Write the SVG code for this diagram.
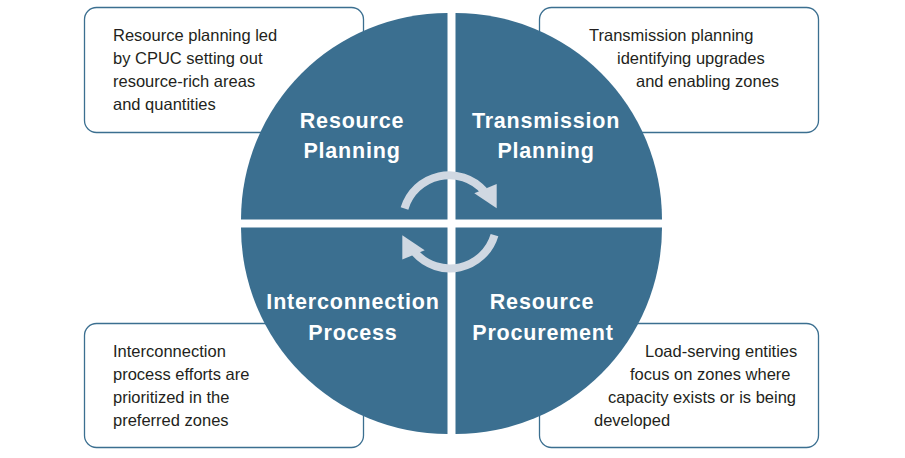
<svg xmlns="http://www.w3.org/2000/svg" width="905" height="458" viewBox="0 0 905 458">
<defs>
<style>
.box{fill:#ffffff;stroke:#3b6f90;stroke-width:1.3}
.q{fill:#3b6f90}
.body{font-family:"Liberation Sans",Arial,sans-serif;font-size:16.5px;fill:#231f20}
.title{font-family:"Liberation Sans",Arial,sans-serif;font-size:21.5px;font-weight:bold;fill:#ffffff;letter-spacing:0.8px;text-anchor:middle}
.arc{fill:none;stroke:#d0d8e2;stroke-width:8}
.head{fill:#d0d8e2}
</style>
</defs>
<rect width="905" height="458" fill="#ffffff"/>
<g id="box-resource-planning">
<rect class="box" x="84.5" y="7.5" width="279" height="125" rx="12"/>
<text class="body"><tspan x="113" y="41">Resource planning led</tspan><tspan x="113" y="64">by CPUC setting out</tspan><tspan x="113" y="87">resource-rich areas</tspan><tspan x="113" y="110">and quantities</tspan></text>
</g>
<g id="box-transmission-planning">
<rect class="box" x="539.5" y="7.5" width="279" height="125" rx="12"/>
<text class="body"><tspan x="589" y="41">Transmission planning</tspan><tspan x="617" y="64">identifying upgrades</tspan><tspan x="636" y="87">and enabling zones</tspan></text>
</g>
<g id="box-interconnection-process">
<rect class="box" x="84.5" y="323.5" width="279" height="124" rx="12"/>
<text class="body"><tspan x="113" y="357">Interconnection</tspan><tspan x="113" y="380">process efforts are</tspan><tspan x="113" y="403">prioritized in the</tspan><tspan x="113" y="426">preferred zones</tspan></text>
</g>
<g id="box-resource-procurement">
<rect class="box" x="539.5" y="323.5" width="279" height="124" rx="12"/>
<text class="body"><tspan x="645" y="357">Load-serving entities</tspan><tspan x="630" y="380">focus on zones where</tspan><tspan x="608" y="403">capacity exists or is being</tspan><tspan x="594" y="426">developed</tspan></text>
</g>
<g id="resource-planning">
<path class="q" d="M447.5,219.5 L241,219.5 A206.5,206.5 0 0 1 447.5,13 Z"/>
<text class="title"><tspan x="352" y="128">Resource</tspan><tspan x="352" y="158">Planning</tspan></text>
</g>
<g id="transmission-planning">
<path class="q" d="M455.5,219.5 L455.5,13 A206.5,206.5 0 0 1 662,219.5 Z"/>
<text class="title"><tspan x="546" y="128">Transmission</tspan><tspan x="546" y="158">Planning</tspan></text>
</g>
<g id="resource-procurement">
<path class="q" d="M455.5,227.5 L662,227.5 A206.5,206.5 0 0 1 455.5,434 Z"/>
<text class="title"><tspan x="542" y="309">Resource</tspan><tspan x="543" y="340">Procurement</tspan></text>
</g>
<g id="interconnection-process">
<path class="q" d="M447.5,227.5 L447.5,434 A206.5,206.5 0 0 1 241,227.5 Z"/>
<text class="title"><tspan x="353" y="309">Interconnection</tspan><tspan x="353" y="340">Process</tspan></text>
</g>
<g id="connectors">
<g id="cycle-arrow-top">
<path class="arc" d="M404.5,208.5 A46.5,46.5 0 0 1 484,191"/>
<polygon class="head" points="474.3,193.3 496.7,184 496.7,208.3"/>
</g>
<g id="cycle-arrow-bottom" transform="rotate(180 449.5 221.8)">
<path class="arc" d="M404.5,208.5 A46.5,46.5 0 0 1 484,191"/>
<polygon class="head" points="474.3,193.3 496.7,184 496.7,208.3"/>
</g>
</g>
</svg>
